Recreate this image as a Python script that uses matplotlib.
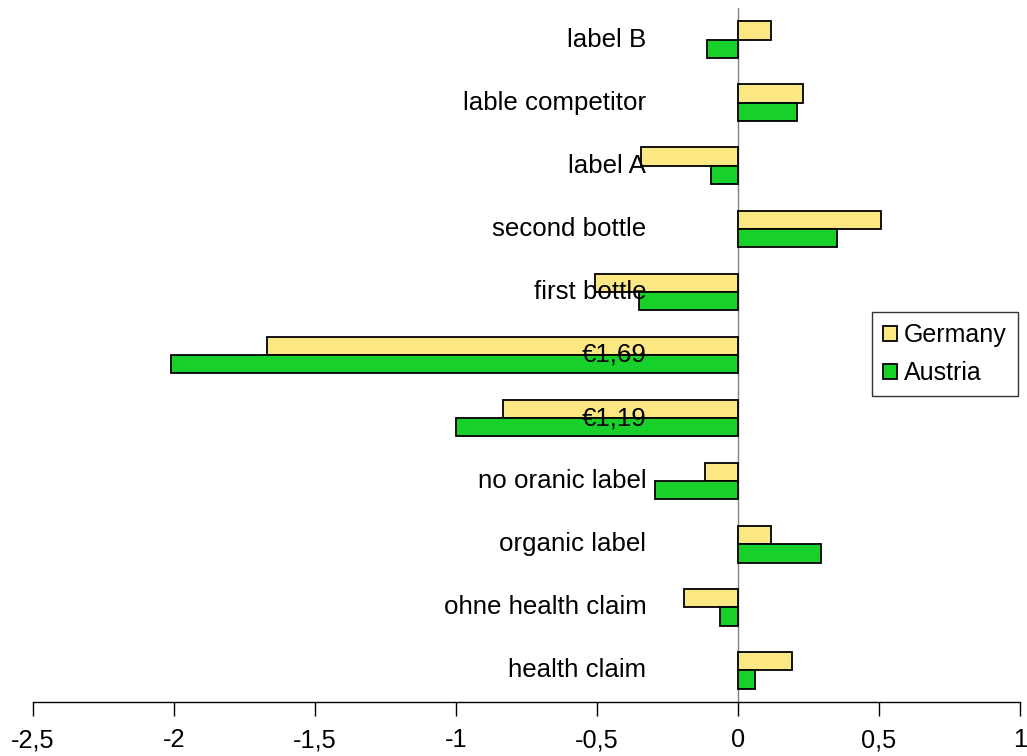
import numpy as np
import matplotlib
matplotlib.use("Agg")
import matplotlib.pyplot as plt
from matplotlib.ticker import FuncFormatter

plt.rcParams["font.family"] = ["Liberation Sans", "DejaVu Sans"]

categories = ["health claim", "ohne health claim", "organic label", "no oranic label",
              "€1,19", "€1,69", "first bottle", "second bottle", "label A",
              "lable competitor", "label B"]
germany = [0.19, -0.19, 0.117, -0.117, -0.833, -1.67, -0.507, 0.507, -0.344, 0.23, 0.117]
austria = [0.06, -0.064, 0.294, -0.294, -1.0, -2.01, -0.351, 0.351, -0.096, 0.21, -0.11]

fig = plt.figure(figsize=(10.27, 7.56), dpi=100)
ax = fig.add_axes([33 / 1027, 54 / 756, 987 / 1027, 694 / 756])

y = np.arange(len(categories))
h = 0.29
ax.barh(y + h / 2, germany, height=h, color="#FCE883", edgecolor="black", linewidth=1.3,
        label="Germany", zorder=2)
ax.barh(y - h / 2, austria, height=h, color="#17D12A", edgecolor="black", linewidth=1.3,
        label="Austria", zorder=2)

for yi, name in zip(y, categories):
    ax.text(-0.325, yi, name, ha="right", va="center", fontsize=18.6, zorder=3)

ax.axvline(0, color="#808080", linewidth=1, zorder=1)
ax.set_xlim(-2.5, 1)
ax.set_ylim(-0.5, 10.5)
ax.set_xticks(np.arange(-2.5, 1.01, 0.5))
ax.xaxis.set_major_formatter(FuncFormatter(lambda v, p: f"{v:g}".replace(".", ",")))
ax.tick_params(axis="x", direction="out", length=10, width=1, labelsize=18.3, pad=9)
ax.set_yticks([])
ax.spines[["top", "right", "left"]].set_visible(False)
ax.spines["bottom"].set_linewidth(1)

leg = ax.legend(loc="center right", bbox_to_anchor=(0.998, 0.501), fontsize=18,
                frameon=True, fancybox=False, edgecolor="black", handlelength=0.55,
                handleheight=0.55, handletextpad=0.3, borderpad=0.45, labelspacing=0.55,
                borderaxespad=0)
leg.get_frame().set_linewidth(1)

fig.savefig("out.png", dpi=100)
